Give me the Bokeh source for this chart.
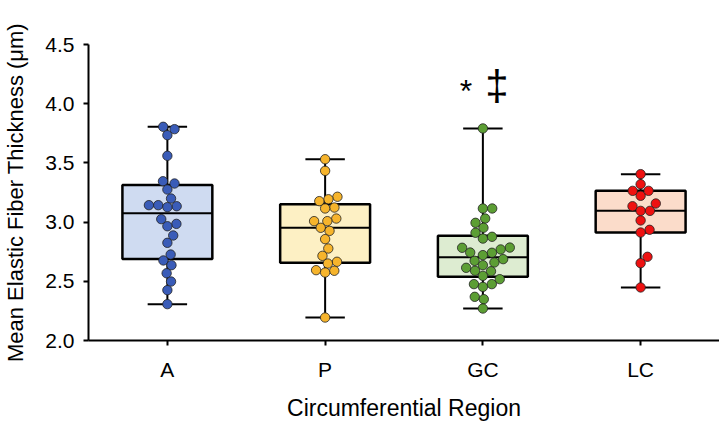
import numpy as np
from bokeh.plotting import figure
from bokeh.models import Range1d, FixedTicker, Label, PrintfTickFormatter
from bokeh.embed import file_html
from bokeh.resources import INLINE

# ---------------- data ----------------
regions = ["A", "P", "GC", "LC"]

vals_A = [3.805, 3.785, 3.734, 3.560, 3.345, 3.326, 3.275, 3.199, 3.143, 3.143,
          3.134, 3.126, 3.025, 2.985, 2.965, 2.887, 2.825, 2.726, 2.676, 2.636,
          2.568, 2.498, 2.425, 2.307]
vals_P = [3.531, 3.433, 3.214, 3.193, 3.177, 3.123, 3.115, 3.030, 3.008, 3.008,
          2.952, 2.926, 2.856, 2.777, 2.715, 2.665, 2.650, 2.594, 2.589, 2.574,
          2.194]
vals_GC = [3.791, 3.115, 3.115, 3.030, 2.994, 2.952, 2.910, 2.876, 2.861, 2.785,
           2.783, 2.769, 2.743, 2.741, 2.721, 2.687, 2.673, 2.659, 2.636, 2.614,
           2.589, 2.585, 2.546, 2.518, 2.476, 2.476, 2.453, 2.369, 2.349, 2.270]
vals_LC = [3.405, 3.320, 3.264, 3.264, 3.222, 3.157, 3.134, 3.095, 3.095, 3.014,
           2.935, 2.912, 2.707, 2.653, 2.448]

point_colors = ["#3a5cb8", "#f6b42c", "#5c9e34", "#ee1111"]
box_colors = ["#cfdbf1", "#fdf0c4", "#ddecd1", "#fbdcca"]

y_ticks = [2.0, 2.5, 3.0, 3.5, 4.0, 4.5]
annot_texts = ["*", "\u2021"]

# ---------------- layout ----------------
W, H = 719, 423
B_LEFT, B_RIGHT, B_TOP, B_BOTTOM = 84, 0, 44, 83
FRAME_W = W - B_LEFT - B_RIGHT
FRAME_H = H - B_TOP - B_BOTTOM
X0, X1 = 0.0, float(len(regions))
Y0, Y1 = 2.0, 4.5
SX = FRAME_W / (X1 - X0)
SY = FRAME_H / (Y1 - Y0)
DIAM = 9.4
BOX_W = 0.57
CAP_W = 0.25


def swarm(vals, d):
    vals = np.asarray(vals, dtype=float)
    order = np.argsort(vals)
    placed = []
    xs = np.zeros(len(vals))
    for i in order:
        y = vals[i] * SY
        cands = [0.0]
        for xj, yj in placed:
            dy = y - yj
            if abs(dy) < d:
                dx = np.sqrt(d * d - dy * dy)
                cands += [xj + dx, xj - dx]
        cands.sort(key=lambda c: (abs(c), -c))
        chosen = 0.0
        for c in cands:
            if all((c - xj) ** 2 + (y - yj) ** 2 >= d * d - 1e-6 for xj, yj in placed):
                chosen = c
                break
        placed.append((chosen, y))
        xs[i] = chosen
    return xs / SX


p = figure(width=W, height=H, output_backend="svg", toolbar_location=None,
           x_range=Range1d(X0, X1), y_range=Range1d(Y0, Y1),
           min_border_left=B_LEFT, min_border_right=B_RIGHT,
           min_border_top=B_TOP, min_border_bottom=B_BOTTOM)
p.outline_line_color = None
p.grid.visible = False
p.background_fill_color = "white"
p.border_fill_color = "white"

all_vals = [vals_A, vals_P, vals_GC, vals_LC]
for k, vals in enumerate(all_vals):
    c = k + 0.5
    arr = np.asarray(vals)
    q1, med, q3 = np.percentile(arr, [25, 50, 75], method="weibull")
    lo, hi = arr.min(), arr.max()
    # whiskers
    p.segment(x0=[c, c], y0=[q3, q1], x1=[c, c], y1=[hi, lo], line_color="black", line_width=2)
    p.segment(x0=[c - CAP_W / 2, c - CAP_W / 2], y0=[hi, lo],
              x1=[c + CAP_W / 2, c + CAP_W / 2], y1=[hi, lo], line_color="black", line_width=2)
    # box
    p.quad(left=[c - BOX_W / 2], right=[c + BOX_W / 2], bottom=[q1], top=[q3],
           fill_color=box_colors[k], line_color="black", line_width=2.5)
    p.segment(x0=[c - BOX_W / 2], y0=[med], x1=[c + BOX_W / 2], y1=[med],
              line_color="black", line_width=2)
    # points
    xs = c + swarm(vals, DIAM)
    p.scatter(x=xs, y=arr, size=DIAM, fill_color=point_colors[k],
              line_color="#222222", line_width=0.8)

# annotations above GC
gc = regions.index("GC") + 0.5
p.add_layout(Label(x=gc, y=4.11, x_offset=-17, text=annot_texts[0], text_align="center",
                   text_baseline="alphabetic", text_font="Liberation Sans",
                   text_font_size="32px", text_color="black"))
p.add_layout(Label(x=gc, y=4.15, x_offset=14, text=annot_texts[1], text_align="center",
                   text_baseline="alphabetic", text_font="Liberation Sans",
                   text_font_size="42px", text_color="black"))

# axes
p.xaxis.ticker = FixedTicker(ticks=[i + 0.5 for i in range(len(regions))])
p.xaxis.major_label_overrides = {i + 0.5: r for i, r in enumerate(regions)}
p.yaxis.ticker = FixedTicker(ticks=y_ticks)
p.yaxis.formatter = PrintfTickFormatter(format="%.1f")
p.xaxis.axis_label = "Circumferential Region"
p.yaxis.axis_label = "Mean Elastic Fiber Thickness (\u03bcm)"
for ax in (p.xaxis[0], p.yaxis[0]):
    ax.axis_line_width = 2
    ax.axis_line_color = "black"
    ax.major_tick_line_width = 2
    ax.major_tick_line_color = "black"
    ax.major_tick_out = 5
    ax.major_tick_in = 0
    ax.minor_tick_line_color = None
    ax.major_label_text_font = "Liberation Sans"
    ax.major_label_text_font_size = "21px"
    ax.major_label_text_color = "black"
    ax.axis_label_text_font = "Liberation Sans"
    ax.axis_label_text_font_style = "normal"
    ax.axis_label_text_color = "black"
p.xaxis.axis_label_text_font_size = "23px"
p.yaxis.axis_label_text_font_size = "22px"
p.xaxis.major_label_standoff = 12
p.xaxis.axis_label_standoff = 11
p.yaxis.major_label_standoff = 9
p.yaxis.axis_label_standoff = 14

open("out.html", "w").write(file_html(p, INLINE))
